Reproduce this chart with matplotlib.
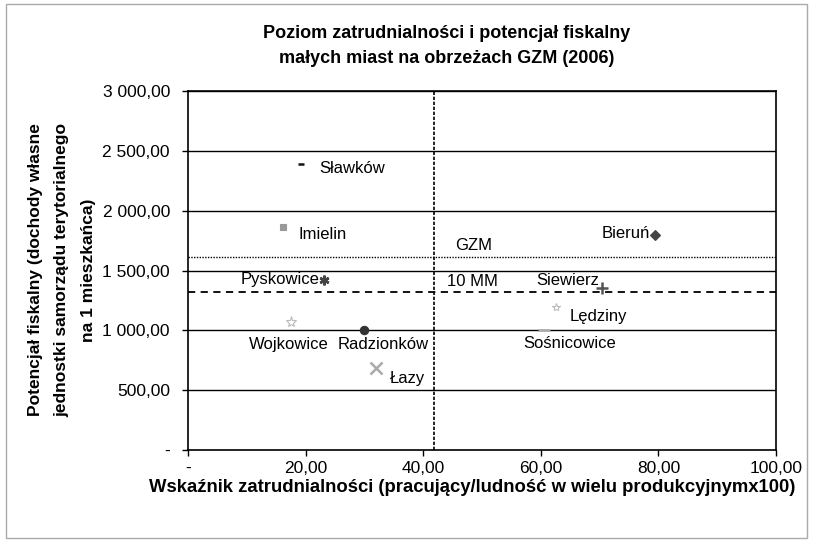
import matplotlib.pyplot as plt
from matplotlib.patches import Rectangle
from matplotlib.ticker import FuncFormatter

plt.rcParams['font.family'] = ['Liberation Sans', 'DejaVu Sans']

# gminy
towns = ['Sławków', 'Imielin', 'Pyskowice', 'Wojkowice', 'Radzionków',
         'Łazy', 'Bieruń', 'Siewierz', 'Lędziny', 'Sośnicowice']
employment = [19.3, 16.2, 23.2, 17.6, 29.9, 32.0, 79.5, 70.4, 62.6, 60.5]
fiscal = [2392, 1867, 1417, 1067, 1000, 683, 1800, 1358, 1192, 1000]

# reference lines
gzm_fiscal = 1617
mm10_fiscal = 1317
mm10_employment = 41.9

# marker style per town
markers = ['_', 's', (6, 2, 0), '*', 'o', 'x', 'D', '+', '*', '_']
colors = ['#111111', '#999999', '#444444', '#bbbbbb', '#333333',
          '#aaaaaa', '#444444', '#555555', '#bbbbbb', '#aaaaaa']
sizes = [5, 5, 7, 8, 6, 9, 5, 8, 6, 8]

# label placement: offset in pixels from the marker, horizontal alignment
label_off = [(18, -5, 'left'), (15, -8, 'left'), (-5, 1, 'right'),
             (-3, -22, 'center'), (19, -14, 'center'), (14, -10, 'left'),
             (-5, 1, 'right'), (-3, 7, 'right'), (14, -9, 'left'),
             (26, -13, 'center')]

fig = plt.figure(figsize=(8.13, 5.42), dpi=100)
ax = fig.add_axes([0.2312, 0.1697, 0.7233, 0.6624])

for yv in range(500, 3001, 500):
    ax.axhline(yv, color='black', lw=1.0, zorder=1)

ax.axvline(mm10_employment, color='black', lw=1.2, ls=(0, (2, 1)), zorder=2)
ax.axhline(mm10_fiscal, color='black', lw=1.3, ls=(0, (4, 3)), zorder=2)
ax.axhline(gzm_fiscal, color='black', lw=1.0, ls=(0, (1, 1)), zorder=2)

for i in range(len(towns)):
    mk = markers[i]
    ax.plot(employment[i], fiscal[i], marker=mk, ms=sizes[i],
            color=colors[i], mew=1.8 if mk in ['_', '+', 'x', (6, 2, 0)] else 0.8,
            mfc=colors[i] if mk != '*' else 'none', ls='none', zorder=3)
    dx, dy, ha = label_off[i]
    ax.annotate(towns[i], (employment[i], fiscal[i]), xytext=(dx, dy),
                textcoords='offset pixels', ha=ha, va='center', fontsize=12)

ax.text(45.5, 1708, 'GZM', ha='left', va='center', fontsize=12)
ax.text(44.1, 1408, '10 MM', ha='left', va='center', fontsize=12)

ax.set_xlim(0, 100)
ax.set_ylim(0, 3000)
ax.set_xticks(range(0, 101, 20))
ax.set_yticks(range(0, 3001, 500))


def fmt(v, pos):
    if v == 0:
        return '-'
    s = f'{v:,.2f}'.replace(',', ' ').replace('.', ',')
    return s


ax.xaxis.set_major_formatter(FuncFormatter(fmt))
ax.yaxis.set_major_formatter(FuncFormatter(fmt))
ax.tick_params(direction='out', length=4, width=1, labelsize=12.5)
ax.tick_params(axis='y', pad=9)
ax.tick_params(axis='x', pad=4)
for sp in ax.spines.values():
    sp.set_linewidth(1.2)

fig.text(0.549, 0.915, 'Poziom zatrudnialności i potencjał fiskalny\nmałych miast na obrzeżach GZM (2006)',
         ha='center', va='center', fontsize=13, fontweight='bold', linespacing=1.6)
fig.text(0.076, 0.502, 'Potencjał fiskalny (dochody własne\njednostki samorządu terytorialnego\nna 1 mieszkańca)',
         ha='center', va='center', rotation=90, fontsize=12.5, fontweight='bold', linespacing=1.95)
fig.text(0.581, 0.101, 'Wskaźnik zatrudnialności (pracujący/ludność w wielu produkcyjnymx100)',
         ha='center', va='center', fontsize=13.3, fontweight='bold')

fig.patches.append(Rectangle((0.007, 0.007), 0.986, 0.986, transform=fig.transFigure,
                             fill=False, ec='#aaaaaa', lw=1))

fig.savefig('out.png', dpi=100)
